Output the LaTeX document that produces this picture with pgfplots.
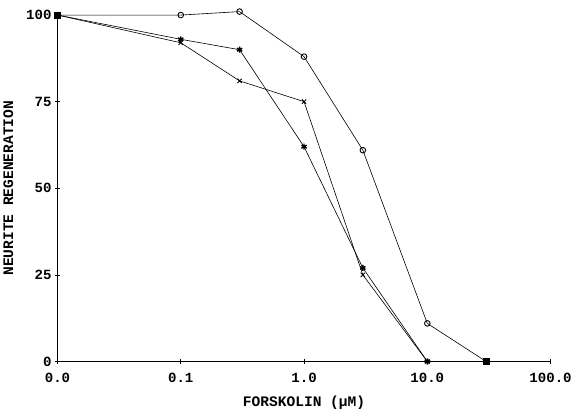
\documentclass[border=0pt]{standalone}
\usepackage{pgfplots}
\pgfplotsset{compat=1.18}
\usepackage{fontspec}
\setmainfont{Liberation Mono}
\begin{document}
\begin{tikzpicture}
\begin{axis}[
  name=ax,
  scale only axis,
  width=491pt, height=345pt,
  xmode=log, log basis x=10,
  xmin=0.01, xmax=100, ymin=0, ymax=100,
  axis x line*=bottom, axis y line*=left,
  xtick={0.01,0.1,1,10,100},
  xticklabels={0.0,0.1,1.0,10.0,100.0},
  ytick={0,25,50,75,100},
  yticklabels={0,25,50,75,100},
  minor tick num=0,
  tick align=center,
  major tick length=5pt,
  tick style={black, line width=0.6pt},
  axis line style={black, line width=0.9pt},
  ticklabel style={font=\bfseries\fontsize{14}{16}\selectfont},
  xticklabel style={yshift=-6pt},
  xlabel={FORSKOLIN (\textmu M)},
  ylabel={NEURITE REGENERATION},
  label style={font=\bfseries\fontsize{14.5}{16}\selectfont},
  xlabel style={yshift=-6pt},
  ylabel style={yshift=6pt},
  clip=false,
  every axis plot/.append style={black, line width=0.6pt},
]
\addplot[mark=o, mark size=2.8pt, mark options={line width=0.9pt}] coordinates {
 (0.01,100) (0.1,100) (0.3,101) (1.0,88) (3.0,61) (10,11) (30,0)};
\addplot[mark=asterisk, mark size=3pt, mark options={line width=1.4pt}] coordinates {
 (0.01,100) (0.1,93) (0.3,90) (1.0,62) (3.0,27) (10,0)};
\addplot[mark=x, mark size=3pt, mark options={line width=0.9pt}] coordinates {
 (0.01,100) (0.1,92) (0.3,81) (1.0,75) (3.0,25) (10,0)};
\addplot[only marks, mark=square*, mark size=3pt] coordinates {(0.01,100) (30,0)};
\end{axis}
\path ([yshift=15pt]ax.north);
\end{tikzpicture}
\end{document}
